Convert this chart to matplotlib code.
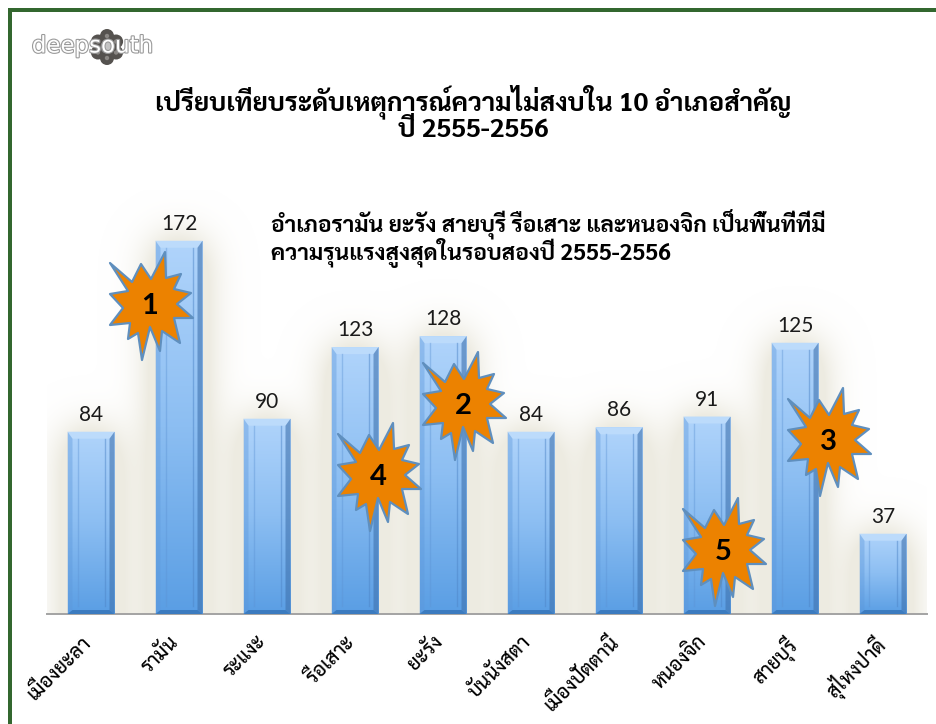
import numpy as np
import matplotlib
matplotlib.use("Agg")
import matplotlib.pyplot as plt
from matplotlib.colors import LinearSegmentedColormap
from matplotlib.patches import Circle, Polygon, Rectangle
from matplotlib.transforms import ScaledTranslation
import matplotlib.patheffects as pe

categories = ["เมืองยะลา", "รามัน", "ระแงะ", "รือเสาะ", "ยะรัง",
              "บันนังสตา", "เมืองปัตตานี", "หนองจิก", "สายบุรี", "สุไหงปาดี"]
values = [84, 172, 90, 123, 128, 84, 86, 91, 125, 37]

title_lines = ["เปรียบเทียบระดับเหตุการณ์ความไม่สงบใน 10 อำเภอสำคัญ", "ปี 2555-2556"]
note_lines = ["อำเภอรามัน ยะรัง สายบุรี รือเสาะ และหนองจิก เป็นพื้นที่ที่มี",
              "ความรุนแรงสูงสุดในรอบสองปี 2555-2556"]

# rank stars: number, centre in picture pixels
star_ranks = ["1", "2", "3", "4", "5"]
star_x = [150, 463, 828, 378, 723]
star_y = [306, 406, 442, 477, 552]
# outline of the star, pixels from its centre
star_dx = [-40, -18, -9, 1, 15, 16, 31, 24, 41, 27, 43, 24, 30, 12, 10, 0, -8, -12, -22, -20, -40, -27, -40, -22]
star_dy = [-43, -24, -42, -27, -54, -28, -32, -17, -13, -2, 12, 12, 37, 25, 45, 21, 54, 27, 33, 17, 19, 2, -12, -15]

THAI = ["Sarabun", "Noto Sans Thai", "DejaVu Sans"]
NUM = ["Lato", "Open Sans", "DejaVu Sans"]

W, H = 936, 724
LEFT, RIGHT, BASE, TOP = 47, 927, 614, 190
PX_PER_UNIT = 2.17
PX_PER_CAT = (RIGHT - LEFT) / len(values)
BAR_W = 47 / PX_PER_CAT
ymax = (BASE - TOP) / PX_PER_UNIT

fig = plt.figure(figsize=(W / 100, H / 100), dpi=100, facecolor="white")
ax = fig.add_axes([LEFT / W, (H - BASE) / H, (RIGHT - LEFT) / W, (BASE - TOP) / H])
ax.patch.set_alpha(0)
x = np.arange(len(values))

# soft beige glow behind the bars, cut off by the plot area
nx, ny = RIGHT - LEFT, BASE - TOP
gx = (np.arange(nx) + 0.5) / PX_PER_CAT - 0.5
gy = (np.arange(ny) + 0.5) / PX_PER_UNIT
mask = np.zeros((ny, nx))
for xi, v in zip(x, values):
    mask[np.ix_(gy <= v, np.abs(gx - xi) <= BAR_W / 2)] = 1
pad = 70
padded = np.pad(mask, pad, mode="edge")
padded[:, :pad] = 0
padded[:, -pad:] = 0
t = np.arange(-pad, pad + 1)
kernel = np.exp(-t ** 2 / (2 * 20.0 ** 2))
kernel /= kernel.sum()
padded = np.apply_along_axis(lambda r: np.convolve(r, kernel, mode="same"), 1, padded)
padded = np.apply_along_axis(lambda c: np.convolve(c, kernel, mode="same"), 0, padded)
blur = padded[pad:-pad, pad:-pad]
glow = np.ones((ny, nx, 4))
glow[..., 0], glow[..., 1], glow[..., 2] = 0xEE / 255, 0xEB / 255, 0xE2 / 255
glow[..., 3] = np.clip(blur * 2.8, 0, 1)
ax.imshow(glow, extent=(-0.5, len(values) - 0.5, 0, ymax), origin="lower", aspect="auto", zorder=1)

# bars, gradient runs over each bar's own height
bars = ax.bar(x, values, width=BAR_W, color="#5B9FE3", zorder=2)
bar_cmap = LinearSegmentedColormap.from_list("bar", ["#5A9EE4", "#8CBEF2", "#B0D4FB"])
grad = np.linspace(0, 1, 128).reshape(-1, 1)
px = 1 / PX_PER_CAT
py = 1 / PX_PER_UNIT
for bar, xi, v in zip(bars, x, values):
    x0, x1 = xi - BAR_W / 2, xi + BAR_W / 2
    im = ax.imshow(grad, extent=(x0, x1, 0, v), origin="lower", aspect="auto", cmap=bar_cmap, zorder=3)
    im.set_clip_path(bar)
    # bevelled edges: top, left, right, bottom
    ax.add_patch(Polygon([(x0, v), (x1, v), (x1 - 5 * px, v - 7 * py), (x0 + 5 * px, v - 7 * py)],
                         fc="#BCDBFB", ec="none", zorder=4))
    ax.add_patch(Polygon([(x0, v), (x0 + 5 * px, v - 7 * py), (x0 + 5 * px, 4 * py), (x0, 0)],
                         fc="#5C97DA", ec="none", alpha=0.4, zorder=4))
    ax.add_patch(Polygon([(x1, v), (x1 - 5 * px, v - 7 * py), (x1 - 5 * px, 4 * py), (x1, 0)],
                         fc="#3F72AE", ec="none", alpha=0.6, zorder=4))
    ax.add_patch(Polygon([(x0, 0), (x1, 0), (x1 - 5 * px, 4 * py), (x0 + 5 * px, 4 * py)],
                         fc="#2F6DB0", ec="none", alpha=0.7, zorder=4))
    # faint inner lines
    ax.plot([x0 + 10 * px] * 2, [8 * py, v - 7 * py], color="#5C93D4", lw=1.0, alpha=0.4, zorder=4)
    ax.plot([x1 - 10 * px] * 2, [8 * py, v - 7 * py], color="#4F86C8", lw=1.0, alpha=0.5, zorder=4)
    ax.annotate(str(v), (xi, v), xytext=(0, 5), textcoords="offset points", ha="center", va="bottom",
                fontsize=15, family=NUM, color="#1a1a1a", zorder=5)

ax.set_xlim(-0.5, len(values) - 0.5)
ax.set_ylim(0, ymax)
ax.set_yticks([])
ax.set_xticks(x)
ax.set_xticklabels(categories, rotation=45, ha="right", rotation_mode="anchor",
                   fontsize=14, family=THAI, weight="medium", color="black")
ax.tick_params(axis="x", length=0, pad=13)
shift = ScaledTranslation(-10 / 100, 0, fig.dpi_scale_trans)
for lab in ax.get_xticklabels():
    lab.set_transform(lab.get_transform() + shift)
for side in ["top", "left", "right"]:
    ax.spines[side].set_visible(False)
ax.spines["bottom"].set_color("#A3A3A3")
ax.spines["bottom"].set_linewidth(1.4)

# overlay in picture pixels: frame, logo, titles, stars
ov = fig.add_axes([0, 0, 1, 1], zorder=10)
ov.set_xlim(0, W)
ov.set_ylim(H, 0)
ov.axis("off")

ov.add_patch(Rectangle((8, 8), W - 8, 4, fc="#33672F", ec="none"))
ov.add_patch(Rectangle((8, 8), 4, H - 8, fc="#33672F", ec="none"))

# logo
for a in np.arange(30, 390, 60):
    cx = 107 + 10.5 * np.cos(np.radians(a))
    cy = 47 + 11 * np.sin(np.radians(a))
    ov.add_patch(Circle((cx, cy), 7, fc="#55524F", ec="none"))
    ov.add_patch(Circle((cx, cy), 2.2, fc="#8A8784", ec="none"))
ov.add_patch(Circle((107, 47), 6, fc="#C4C4C4", ec="#777777", lw=1))
logo = ov.text(92.5, 46, "deepsouth", fontsize=16.5, family="DejaVu Sans", color="white", ha="center", va="center")
logo.set_path_effects([pe.withStroke(linewidth=1.6, foreground="#9A9A9A")])

ov.text(473, 102, title_lines[0], fontsize=18.8, family=THAI, weight="bold", ha="center", va="center")
ov.text(473, 131, title_lines[1], fontsize=18.8, family=THAI, weight="bold", ha="center", va="center")
ov.text(271, 224, note_lines[0], fontsize=16.4, family=THAI, weight="bold", ha="left", va="center")
ov.text(271, 253, note_lines[1], fontsize=16.4, family=THAI, weight="bold", ha="left", va="center")

star_outline = np.column_stack([star_dx, star_dy])
for rank, sx, sy in zip(star_ranks, star_x, star_y):
    ov.add_patch(Polygon(star_outline + [sx, sy], closed=True, fc="#EC8200", ec="#5F8FBE", lw=1.6, joinstyle="round"))
    ov.text(sx, sy, rank, fontsize=21, family=NUM, weight="bold", color="black", ha="center", va="center")

fig.savefig("out.png", dpi=100)
